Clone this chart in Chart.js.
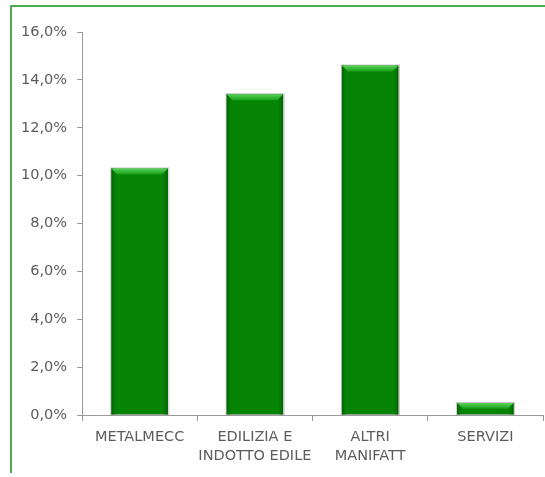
<!DOCTYPE html>
<html>
<head>
<meta charset="utf-8">
<script src="https://cdn.jsdelivr.net/npm/chart.js@4.4.1/dist/chart.umd.min.js"></script>
<style>
    html, body { margin: 0; padding: 0; background: #fff; }
    #wrap { position: relative; width: 545px; height: 477px; overflow: hidden; }
    #frame {
        position: absolute; left: 10px; top: 5px; width: 560px; height: 466px;
        border-top: 2px solid #4fab4f; border-left: 2px solid #4fab4f;
    }
    canvas { position: absolute; left: 0; top: 0; }
</style>
</head>
<body>
<div id="wrap">
    <div id="frame"></div>
    <canvas id="barChart" width="545" height="477"></canvas>
</div>
<script>
// chart values (percent)
const categories = [['METALMECC'], ['EDILIZIA E', 'INDOTTO EDILE'], ['ALTRI', 'MANIFATT'], ['SERVIZI']];
const shareValues = [10.3, 13.4, 14.6, 0.5];
const yTicks = [0, 2, 4, 6, 8, 10, 12, 14, 16];

const axisGray = '#9a9a9a';
const textGray = '#5c5c5c';

// draws the bevel / shading on each bar, using the bar elements' geometry
const bevelPlugin = {
    id: 'bevel',
    afterDatasetsDraw(chart) {
        const ctx = chart.ctx;
        chart.getDatasetMeta(0).data.forEach(bar => {
            const { x, y, base, width } = bar.getProps(['x', 'y', 'base', 'width'], true);
            const left = x - width / 2;
            const right = x + width / 2;
            const h = base - y;
            const b = Math.min(6, h / 2);
            ctx.save();
            // soft gray shadow outline
            ctx.strokeStyle = 'rgba(150,150,150,0.55)';
            ctx.lineWidth = 1;
            ctx.strokeRect(left - 0.5, y - 0.5, width + 1.5, h + 0.5);
            // side edges
            let g = ctx.createLinearGradient(left, 0, left + b, 0);
            g.addColorStop(0, '#036003');
            g.addColorStop(1, 'rgba(5,130,5,0)');
            ctx.fillStyle = g;
            ctx.fillRect(left, y, b, h);
            g = ctx.createLinearGradient(right - b, 0, right, 0);
            g.addColorStop(0, 'rgba(5,130,5,0)');
            g.addColorStop(1, '#035c03');
            ctx.fillStyle = g;
            ctx.fillRect(right - b, y, b, h);
            // top highlight
            g = ctx.createLinearGradient(0, y, 0, y + b);
            g.addColorStop(0, '#5ad25a');
            g.addColorStop(1, '#16a016');
            ctx.fillStyle = g;
            ctx.beginPath();
            ctx.moveTo(left, y);
            ctx.lineTo(right, y);
            ctx.lineTo(right - b, y + b);
            ctx.lineTo(left + b, y + b);
            ctx.closePath();
            ctx.fill();
            ctx.restore();
        });
    }
};

const ctx = document.getElementById('barChart').getContext('2d');
new Chart(ctx, {
    type: 'bar',
    data: {
        labels: categories,
        datasets: [{
            data: shareValues,
            backgroundColor: '#068406',
            borderWidth: 0,
            barPercentage: 0.49,
            categoryPercentage: 1
        }]
    },
    options: {
        responsive: false,
        animation: false,
        layout: { padding: { top: 32, right: 2, left: 0, bottom: 0 } },
        plugins: {
            legend: { display: false },
            tooltip: { enabled: false }
        },
        scales: {
            x: {
                grid: {
                    drawOnChartArea: false,
                    tickLength: 6,
                    color: axisGray
                },
                border: { color: axisGray },
                ticks: {
                    color: textGray,
                    padding: 7,
                    maxRotation: 0,
                    autoSkip: false,
                    font: { family: 'DejaVu Sans', size: 14.5, lineHeight: 1.3 }
                },
                afterFit: scale => { scale.height = 62; }
            },
            y: {
                min: 0,
                max: 16,
                afterBuildTicks: scale => { scale.ticks = yTicks.map(v => ({ value: v })); },
                grid: {
                    drawOnChartArea: false,
                    tickLength: 5,
                    color: axisGray
                },
                border: { color: axisGray },
                ticks: {
                    color: textGray,
                    padding: 10,
                    font: { family: 'DejaVu Sans', size: 14.5 },
                    callback: v => v.toFixed(1).replace('.', ',') + '%'
                },
                afterFit: scale => { scale.width = 82; }
            }
        }
    },
    plugins: [bevelPlugin]
});
</script>
</body>
</html>
